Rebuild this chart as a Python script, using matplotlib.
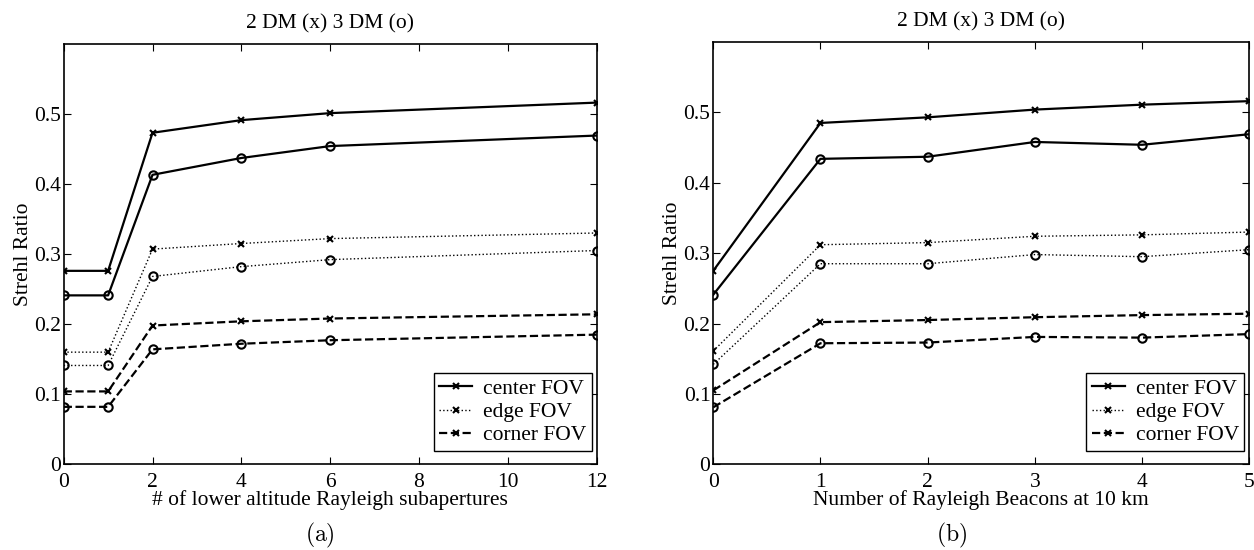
import numpy as np
import matplotlib.pyplot as plt

plt.rcParams['font.family'] = ['Liberation Serif', 'DejaVu Serif']
plt.rcParams['mathtext.fontset'] = 'cm'

# (a) lower altitude Rayleigh subapertures
xa = [0, 1, 2, 4, 6, 12]
a_center_2dm = [0.276, 0.276, 0.473, 0.491, 0.501, 0.516]
a_center_3dm = [0.241, 0.241, 0.413, 0.437, 0.454, 0.469]
a_edge_2dm = [0.160, 0.160, 0.307, 0.315, 0.322, 0.330]
a_edge_3dm = [0.141, 0.141, 0.268, 0.282, 0.292, 0.305]
a_corner_2dm = [0.104, 0.104, 0.198, 0.204, 0.208, 0.214]
a_corner_3dm = [0.082, 0.082, 0.164, 0.172, 0.177, 0.185]

# (b) number of Rayleigh beacons at 10 km
xb = [0, 1, 2, 3, 4, 5]
b_center_2dm = [0.275, 0.485, 0.493, 0.504, 0.511, 0.516]
b_center_3dm = [0.241, 0.434, 0.437, 0.458, 0.454, 0.469]
b_edge_2dm = [0.161, 0.312, 0.315, 0.324, 0.326, 0.330]
b_edge_3dm = [0.142, 0.285, 0.285, 0.298, 0.295, 0.305]
b_corner_2dm = [0.105, 0.202, 0.205, 0.209, 0.212, 0.214]
b_corner_3dm = [0.081, 0.172, 0.173, 0.181, 0.180, 0.185]

fig = plt.figure(figsize=(12.54, 5.5), dpi=100)
ax1 = fig.add_axes([0.0508, 0.1558, 0.4250, 0.7647])
ax2 = fig.add_axes([0.5688, 0.1558, 0.4274, 0.7678])

FS = 15.5


def draw(ax, x, c2, c3, e2, e3, k2, k3, xlabel, xticks):
    kw_x = dict(color='k', marker='x', markersize=4, markeredgewidth=1.5)
    kw_o = dict(color='k', marker='o', markersize=6, markerfacecolor='none', markeredgewidth=1.5)
    ax.plot(x, c2, '-', linewidth=1.6, label='center FOV', **kw_x)
    ax.plot(x, c3, '-', linewidth=1.6, **kw_o)
    ax.plot(x, e2, ':', linewidth=1.0, label='edge FOV', **kw_x)
    ax.plot(x, e3, ':', linewidth=1.0, **kw_o)
    ax.plot(x, k2, '--', linewidth=1.6, label='corner FOV', **kw_x)
    ax.plot(x, k3, '--', linewidth=1.6, **kw_o)
    ax.set_xlim(x[0], x[-1])
    ax.set_ylim(0, 0.6)
    ax.set_xticks(xticks)
    ax.set_yticks([0, 0.1, 0.2, 0.3, 0.4, 0.5])
    ax.set_yticklabels(['0', '0.1', '0.2', '0.3', '0.4', '0.5'])
    ax.tick_params(direction='in', top=True, right=True, labelsize=FS, length=5)
    ax.tick_params(axis='x', pad=6)
    ax.tick_params(axis='y', pad=2)
    for s in ax.spines.values():
        s.set_linewidth(1.2)
    ax.set_xlabel(xlabel, fontsize=FS, labelpad=-1)
    ax.set_ylabel('Strehl Ratio', fontsize=FS, labelpad=1)
    ax.set_title('2 DM (x) 3 DM (o)', fontsize=FS, pad=11)
    leg = ax.legend(loc='lower right', fontsize=FS, fancybox=False, edgecolor='k',
                    framealpha=1, handlelength=1.55, borderpad=0.25, labelspacing=0.15,
                    handletextpad=0.5, borderaxespad=0, bbox_to_anchor=(0.991, 0.032))
    leg.get_frame().set_linewidth(1.0)


draw(ax1, xa, a_center_2dm, a_center_3dm, a_edge_2dm, a_edge_3dm,
     a_corner_2dm, a_corner_3dm, '# of lower altitude Rayleigh subapertures',
     [0, 2, 4, 6, 8, 10, 12])
draw(ax2, xb, b_center_2dm, b_center_3dm, b_edge_2dm, b_edge_3dm,
     b_corner_2dm, b_corner_3dm, 'Number of Rayleigh Beacons at 10 km',
     [0, 1, 2, 3, 4, 5])

fig.text(320 / 1254, 1 - 535 / 550, r'$\mathrm{(a)}$', fontsize=17, ha='center', va='center')
fig.text(952 / 1254, 1 - 535 / 550, r'$\mathrm{(b)}$', fontsize=17, ha='center', va='center')

fig.savefig('out.png', dpi=100)
